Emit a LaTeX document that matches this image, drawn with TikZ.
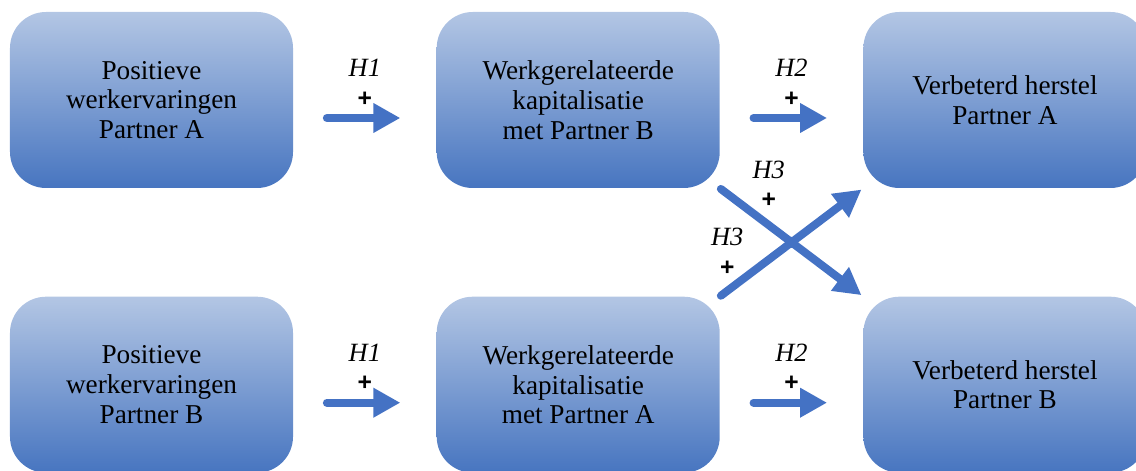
\documentclass[tikz,border=0pt]{standalone}
\usepackage{fontspec}
\setmainfont{Liberation Serif}
\setsansfont{Liberation Sans}
\usetikzlibrary{arrows.meta,positioning,calc}
\definecolor{BoxTop}{HTML}{B3C6E4}
\definecolor{BoxBot}{HTML}{4775C0}
\definecolor{ArrBlue}{HTML}{4472C4}

\begin{document}
\begin{tikzpicture}[
  box/.style={rectangle,rounded corners=0.72cm,minimum width=5.66cm,minimum height=3.52cm,inner sep=0pt,
    top color=BoxTop,bottom color=BoxBot,align=center,font=\fontsize{15.5}{17}\selectfont},
  arr/.style={ArrBlue,line width=0.16cm,line cap=round,-{Triangle[length=0.54cm,width=0.56cm]}},
  hyp/.style={text=black,font=\fontsize{15}{17}\selectfont\itshape},
  plus/.style={text=black,font=\fontsize{14}{16}\selectfont\sffamily\bfseries,inner sep=0pt},
  node distance=2.16cm and 2.86cm]
\useasboundingbox (0,0) rectangle (22.72,-9.42);
% boxes
\node[box] (pa) at (3.03,-2) {Positieve\\werkervaringen\\Partner A};
\node[box,right=of pa] (ka) {Werkgerelateerde\\kapitalisatie\\met Partner B};
\node[box,right=of ka] (va) {Verbeterd herstel\\Partner A};
\node[box,below=of pa] (pb) {Positieve\\werkervaringen\\Partner B};
\node[box,right=of pb] (kb) {Werkgerelateerde\\kapitalisatie\\met Partner A};
\node[box,right=of kb] (vb) {Verbeterd herstel\\Partner B};
% horizontal paths
\foreach \s/\t/\h/\n in {pa/ka/H1/ha,ka/va/H2/hb,pb/kb/H1/hc,kb/vb/H2/hd}{
  \draw[arr,shorten <=0.67cm,shorten >=0.72cm] ([yshift=-0.36cm]\s.east) -- ([yshift=-0.36cm]\t.west)
    node[midway,yshift=0.38cm,plus] (\n-p) {+}
    node[midway,yshift=1.0cm,hyp] (\n-l) {\h};
}
% crossing paths
\draw[arr,shorten <=0.02cm,shorten >=0.04cm] (ka.south east) -- (vb.north west)
  node[pos=0.34,yshift=0.5cm,plus] (xa-p) {+}
  node[pos=0.34,yshift=1.1cm,hyp] (xa-l) {H3};
\draw[arr,shorten <=0.02cm,shorten >=0.04cm] (kb.north east) -- (va.south west)
  node[pos=0.05,yshift=0.46cm,plus] (xb-p) {+}
  node[pos=0.05,yshift=1.08cm,hyp] (xb-l) {H3};
\fill[ArrBlue] ($(ka.south east)!0.5!(vb.north west)$) circle (0.11cm);
\end{tikzpicture}
\end{document}
